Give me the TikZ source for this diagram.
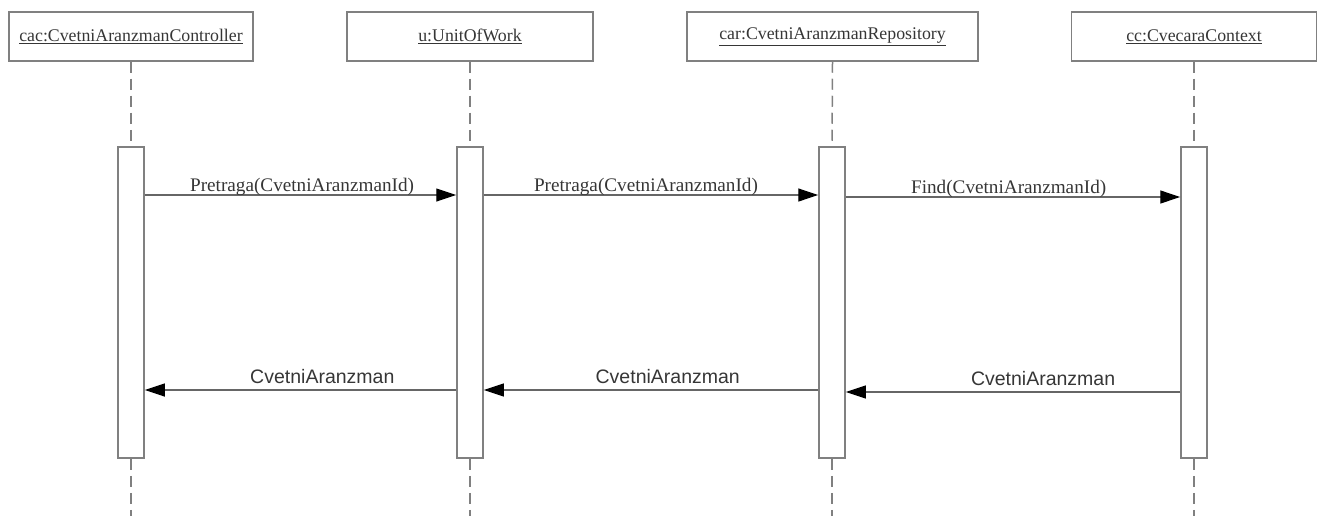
\documentclass[tikz,border=0pt]{standalone}
\usepackage{fontspec}
\setmainfont{Liberation Serif}
\setsansfont{Liberation Sans}
\usetikzlibrary{arrows.meta}

\definecolor{umlline}{HTML}{808080}
\definecolor{umltext}{HTML}{363636}

\tikzset{
  object/.style={draw=umlline, line width=1.5pt, fill=white, minimum height=49pt,
    inner sep=0pt, text=umltext, font=\fontsize{17.8}{20}\selectfont},
  activation/.style={draw=umlline, line width=1.5pt, fill=white,
    minimum width=26pt, minimum height=311pt, inner sep=0pt},
  lifeline/.style={draw=umlline, line width=1.5pt, dash pattern=on 11pt off 6pt},
  call/.style={draw=umlline!80!black, line width=1.2pt,
    -{Triangle[length=20pt,width=13pt,color=black]}},
  reply/.style={call},
  calllabel/.style={anchor=base, yshift=4pt, text=umltext,
    font=\fontsize{19.2}{22}\selectfont},
  replylabel/.style={anchor=base, yshift=7pt, text=umltext,
    font=\sffamily\fontsize{19.5}{22}\selectfont}
}

\begin{document}
\begin{tikzpicture}[x=1pt, y=-1pt]
  \useasboundingbox (0,0) rectangle (1321,516);

  \node[object, minimum width=244pt] (cac) at (131,36.5) {\underline{cac:CvetniAranzmanController}};
  \node[object, minimum width=246pt] (u)   at (470,36.5) {\underline{u:UnitOfWork}};
  \node[object, minimum width=291pt] (car) at (832.5,36.5) {\underline{car:CvetniAranzmanRepository}};
  \node[object, minimum width=245pt] (cc)  at (1194,36.5) {\underline{cc:CvecaraContext}};

  \coordinate (bottom) at (0,516);
  \coordinate (call) at (0,195);
  \coordinate (find) at (0,197);
  \coordinate (reply) at (0,390);
  \coordinate (result) at (0,392);

  \node[activation] (act1) at (131,302.5) {};
  \node[activation] (act2) at (470,302.5) {};
  \node[activation] (act3) at (832,302.5) {};
  \node[activation] (act4) at (1194,302.5) {};

  \foreach \obj/\act in {cac/act1, u/act2, car/act3, cc/act4} {
    \draw[lifeline] (\obj.south) -- (\act.north);
    \draw[lifeline] (\act.south) -- (\act.south |- bottom);
  }

  \draw[call] (act1.east |- call) -- (act2.west |- call)
    node[calllabel, pos=.505] {Pretraga(CvetniAranzmanId)};
  \draw[call] (act2.east |- call) -- (act3.west |- call)
    node[calllabel, pos=.485] {Pretraga(CvetniAranzmanId)};
  \draw[call] (act3.east |- find) -- (act4.west |- find)
    node[calllabel, pos=.487] {Find(CvetniAranzmanId)};

  \draw[reply] (act4.west |- result) -- (act3.east |- result)
    node[replylabel, pos=.41] {CvetniAranzman};
  \draw[reply] (act3.west |- reply) -- (act2.east |- reply)
    node[replylabel, pos=.45] {CvetniAranzman};
  \draw[reply] (act2.west |- reply) -- (act1.east |- reply)
    node[replylabel, pos=.43] {CvetniAranzman};
\end{tikzpicture}
\end{document}
